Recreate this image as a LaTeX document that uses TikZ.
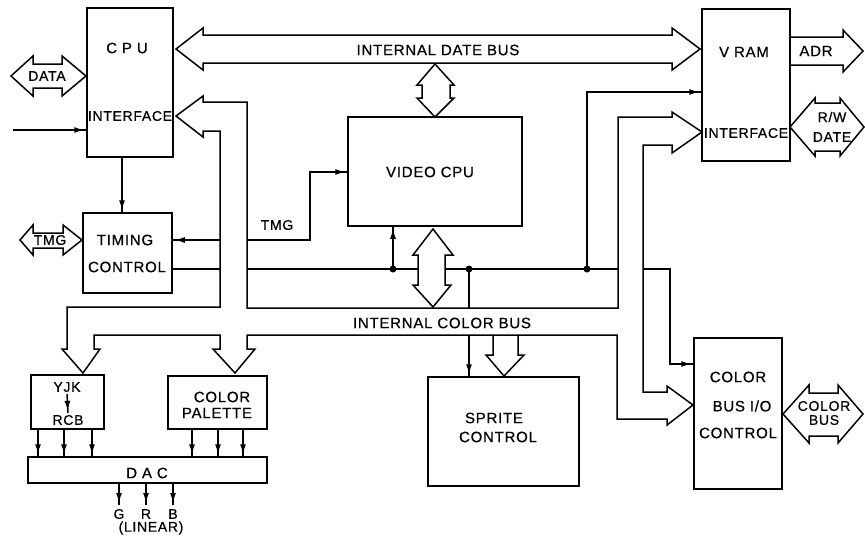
\documentclass[tikz,border=0pt]{standalone}
\usepackage{fontspec}
\setmainfont{Liberation Sans}[LetterSpace=5,FakeBold=0.6]
\usetikzlibrary{arrows.meta,decorations.markings}
\begin{document}
\begin{tikzpicture}[x=1pt,y=-1pt,
  every node/.style={font=\fontsize{15}{17}\selectfont, inner sep=0pt},
  box/.style={draw, line width=1.5pt, inner sep=0pt},
  ln/.style={line width=1.5pt, line join=miter},
  sig/.style={ln, postaction={decorate}, decoration={markings, mark=at position -2pt with {\arrow{Latex[length=10pt,width=6pt]}}}},
  fat/.style={line width=1.5pt, line join=miter},
  dot/.style={circle, fill, inner sep=0pt, minimum size=7pt},
  sm/.style={font=\fontsize{14}{15}\selectfont},
]
\useasboundingbox (0,0) rectangle (865,539);

% ---------- boxes ----------
\node[box, minimum width=86pt, minimum height=149pt] (cpu) at (130,82.5) {};
\node[box, minimum width=88pt, minimum height=152pt] (vram) at (746,85) {};
\node[box, minimum width=174pt, minimum height=109pt] (vcpu) at (435,171.5) {};
\node[box, minimum width=89pt, minimum height=80pt] (timing) at (127.5,253) {};
\node[box, minimum width=73pt, minimum height=54pt] (yjk) at (67.5,402) {};
\node[box, minimum width=99pt, minimum height=53pt] (pal) at (217.5,402.5) {};
\node[box, minimum width=239pt, minimum height=26pt] (dac) at (147.5,470) {};
\node[box, minimum width=151pt, minimum height=109pt] (sprite) at (503.5,431.5) {};
\node[box, minimum width=88pt, minimum height=151pt] (cbio) at (738,413.5) {};

% ---------- texts ----------
\node (tcpu) at (127,48) {C P U};
\node[sm] (tcpuif) at (130,116) {INTERFACE};
\node[sm] (tdata) at (47,76) {DATA};
\node (tidb) at (438,50) {INTERNAL DATE BUS};
\node (tvram) at (744,52) {V RAM};
\node (tadr) at (816,51) {ADR};
\node[sm] (tvif) at (746,133) {INTERFACE};
\node[sm] (trw) at (832,117) {R/W};
\node[sm] (tdate) at (832,137) {DATE};
\node (tvcpu) at (430,172) {VIDEO CPU};
\node[sm] (ttmg) at (277,225) {TMG};
\node[sm] (ttmgl) at (50,240) {TMG};
\node (ttim) at (125,240) {TIMING};
\node (tctl) at (127,267) {CONTROL};
\node (ticb) at (442,323) {INTERNAL COLOR BUS};
\node[sm] (tyjk) at (67,387) {YJK};
\node[sm] (trcb) at (68,420) {RCB};
\draw[sig] ([yshift=-2pt]tyjk.south) -- ([yshift=2pt]trcb.north);
\node (tcol) at (222,397) {COLOR};
\node (tpal) at (217,413) {PALETTE};
\node (tdac) at (147,473) {D A C};
\node[sm] (tlin) at (151,528) {(LINEAR)};
\node (tspr) at (494,418) {SPRITE};
\node (tsctl) at (498,437) {CONTROL};
\node (tbcol) at (738,377) {COLOR};
\node (tbbus) at (742,406) {BUS I/O};
\node (tbctl) at (738,433) {CONTROL};
\node[sm] (tcbc) at (824,406) {COLOR};
\node[sm] (tcbb) at (824,420) {BUS};

% ---------- wide arrows ----------
% data bus
\draw[fat] (176,49) -- (203,28) -- (203,35) -- (672,35) -- (672,28) -- (700,49)
  -- (672,70) -- (672,63) -- (203,63) -- (203,70) -- cycle;
% DATA
\draw[fat] (11,76) -- (33,56) -- (33,64) -- (62,64) -- (62,56) -- (86,76)
  -- (62,96) -- (62,88) -- (33,88) -- (33,96) -- cycle;
% TMG (left)
\draw[fat] (20,240) -- (33,225) -- (33,233) -- (63,233) -- (63,225) -- (82,240)
  -- (63,255) -- (63,248) -- (33,248) -- (33,255) -- cycle;
% ADR
\draw[fat] (vram.east |- 0,37) -- (843,37) -- (843,30) -- (863,51) -- (843,72) -- (843,65) -- (vram.east |- 0,65);
% R/W DATE
\draw[fat] (790,127) -- (815,98) -- (815,103) -- (840,103) -- (840,98) -- (864,127)
  -- (840,156) -- (840,151) -- (815,151) -- (815,156) -- cycle;
% COLOR BUS
\draw[fat] (783,414) -- (809,385) -- (809,393) -- (838,393) -- (838,385) -- (863,414)
  -- (838,443) -- (838,436) -- (809,436) -- (809,443) -- cycle;
% date bus <-> video cpu
\draw[fat] (435,64) -- (454,85) -- (450,85) -- (450,98) -- (454,98) -- (435,117)
  -- (417,98) -- (422,98) -- (422,85) -- (417,85) -- cycle;
% video cpu <-> color bus
\draw[fat] (433,229) -- (453,255) -- (445,255) -- (445,285) -- (451,285) -- (433,307)
  -- (413,285) -- (418,285) -- (418,255) -- (413,255) -- cycle;
% sprite arrow
\draw[fat] (493,335) -- (493,355) -- (486,355) -- (504,376) -- (524,355) -- (518,355) -- (518,335);
% the big internal bus outline
\draw[fat] (220,131) -- (220,307) -- (67,307) -- (67,349) -- (62,349) -- (83,373) -- (100,349)
  -- (94,349) -- (94,335) -- (220,335) -- (220,349) -- (213,349) -- (235,373) -- (255,349)
  -- (247,349) -- (247,335) -- (617,335) -- (617,419) -- (667,419) -- (667,425) -- (693,405)
  -- (667,386) -- (667,392) -- (643,392) -- (643,145) -- (672,145) -- (672,153) -- (702,132)
  -- (672,112) -- (672,117) -- (618,117) -- (618,308) -- (247,308) -- (247,102) -- (203,102)
  -- (203,96) -- (176,116) -- (203,137) -- (203,131) -- cycle;

% ---------- signal lines ----------
\coordinate (in) at (13,130);
\draw[sig] (in) -- (in -| cpu.west);
\draw[sig] (cpu.south -| 122,0) -- (timing.north -| 122,0);
\draw[sig] (220,240) -- (timing.east |- 0,240);
\draw[ln] (timing.east |- 0,269) -- (220,269);
\draw[sig] (247,240) -- (310,240) -- (310,172) -- (vcpu.west |- 0,172);
\draw[ln] (247,269) -- (418,269);
\draw[ln] (445,269) -- (618,269);
\node[dot] (d1) at (393,269) {};
\node[dot] (d2) at (469,269) {};
\node[dot] (d3) at (587,269) {};
\draw[sig] (d1.center) -- (d1 |- vcpu.south);
\draw[ln] (d2.center) -- (469,308);
\draw[sig] (469,335) -- (sprite.north -| 469,0);
\draw[sig] (d3.center) -- (587,92) -- (vram.west |- 0,92);
\draw[sig] (643,269) -- (670,269) -- (670,364) -- (cbio.west |- 0,364);

% yjk / palette -> dac
\foreach \x in {38,64,92} \draw[sig] (yjk.south -| \x,0) -- (dac.north -| \x,0);
\foreach \x in {192,218,243} \draw[sig] (pal.south -| \x,0) -- (dac.north -| \x,0);
% outputs
\foreach \x/\l in {119/G,146/R,173/B} {
  \draw[sig] (dac.south -| \x,0) -- (\x,505);
  \node[sm] (out\l) at (\x,514) {\l};
}
\end{tikzpicture}
\end{document}
